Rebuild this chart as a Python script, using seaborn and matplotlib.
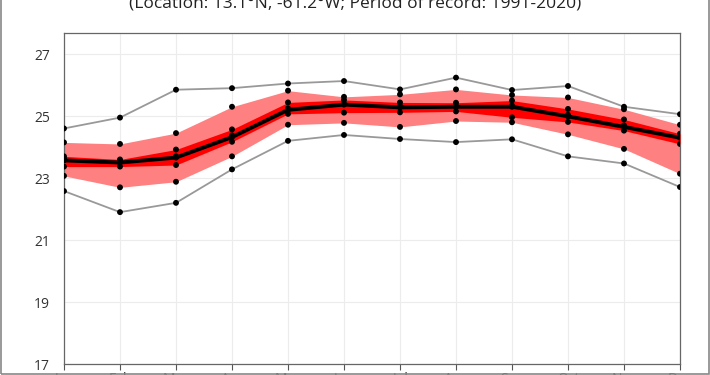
"""
Monthly temperature climatology chart
Min/max envelope, 10-90 and 25-75 percentile bands, mean line
"""

import numpy as np
import pandas as pd
import matplotlib
matplotlib.use('Agg')
import matplotlib.pyplot as plt
from matplotlib.patches import Rectangle
import seaborn as sns

# Data (degrees C)
months = ['Jan', 'Feb', 'Mar', 'Apr', 'May', 'Jun',
          'Jul', 'Aug', 'Sep', 'Oct', 'Nov', 'Dec']
t_max = [24.60, 24.95, 25.85, 25.90, 26.05, 26.13, 25.86, 26.24, 25.84, 25.97, 25.30, 25.06]
t_p90 = [24.15, 24.10, 24.45, 25.30, 25.82, 25.62, 25.70, 25.86, 25.68, 25.60, 25.22, 24.72]
t_p75 = [23.70, 23.60, 23.92, 24.57, 25.44, 25.52, 25.44, 25.43, 25.50, 25.23, 24.89, 24.43]
t_median = [23.62, 23.55, 23.70, 24.38, 25.25, 25.40, 25.33, 25.33, 25.34, 25.04, 24.70, 24.35]
t_mean = [23.57, 23.50, 23.66, 24.32, 25.20, 25.37, 25.28, 25.30, 25.30, 24.99, 24.65, 24.30]
t_p25 = [23.37, 23.37, 23.42, 24.17, 25.07, 25.11, 25.12, 25.15, 24.96, 24.81, 24.53, 24.10]
t_p10 = [23.07, 22.70, 22.88, 23.70, 24.72, 24.78, 24.65, 24.84, 24.80, 24.41, 23.94, 23.14]
t_min = [22.58, 21.90, 22.20, 23.28, 24.20, 24.39, 24.26, 24.16, 24.25, 23.70, 23.47, 22.71]
y_ticks = [17, 19, 21, 23, 25, 27]
subtitle = '(Location: 13.1°N, -61.2°W; Period of record: 1991-2020)'

sns.set_style('white')
plt.rcParams['font.family'] = ['Open Sans', 'DejaVu Sans']

x = np.arange(len(months))
stats = {'max': t_max, 'p90': t_p90, 'p75': t_p75, 'median': t_median,
         'mean': t_mean, 'p25': t_p25, 'p10': t_p10, 'min': t_min}
df = pd.DataFrame(stats)
df['month'] = x
long_df = df.melt(id_vars='month', var_name='stat', value_name='temp')

fig = plt.figure(figsize=(7.1, 3.75), dpi=100)
ax = fig.add_axes([64 / 710, 1 - 364 / 375, 616 / 710, 331 / 375])

# Bands
ax.fill_between(x, t_p10, t_p90, color='#ff8080', lw=0, zorder=2)
ax.fill_between(x, t_p25, t_p75, color='#ff0000', lw=0, zorder=3)

# Extremes and mean
sns.lineplot(data=df, x='month', y='max', color='#999999', lw=1.3, ax=ax, zorder=4)
sns.lineplot(data=df, x='month', y='min', color='#999999', lw=1.3, ax=ax, zorder=4)
sns.lineplot(data=df, x='month', y='mean', color='black', lw=2.8, ax=ax, zorder=5)

# All statistic points
sns.scatterplot(data=long_df, x='month', y='temp', color='black', s=18,
                edgecolor='none', ax=ax, zorder=6, legend=False)

ax.set_xlim(0, 11)
ax.set_ylim(17, 27.68)
ax.set_xticks(x)
ax.set_xticklabels(months)
ax.set_yticks(y_ticks)
ax.set_xlabel('')
ax.set_ylabel('')
ax.grid(True, color='#ececec', lw=0.8, zorder=0)
ax.set_axisbelow(True)
ax.tick_params(axis='y', length=0, pad=10, labelsize=10, labelcolor='#333333')
ax.tick_params(axis='x', length=4, width=0.8, color='#555555', pad=2,
               labelsize=10, labelcolor='#333333', direction='out', bottom=True)
for side in ['left', 'bottom', 'top', 'right']:
    ax.spines[side].set_color('#666666')
    ax.spines[side].set_linewidth(0.9)

fig.text(355 / 710, 1 - 8 / 375, subtitle, ha='center', va='baseline',
         fontsize=12.5, color='#222222')

fig.patches.append(Rectangle((0.002, 0.002), 0.996, 1.1, transform=fig.transFigure,
                             fill=False, edgecolor='#888888', lw=1.2))

fig.savefig('out.png', dpi=100)
